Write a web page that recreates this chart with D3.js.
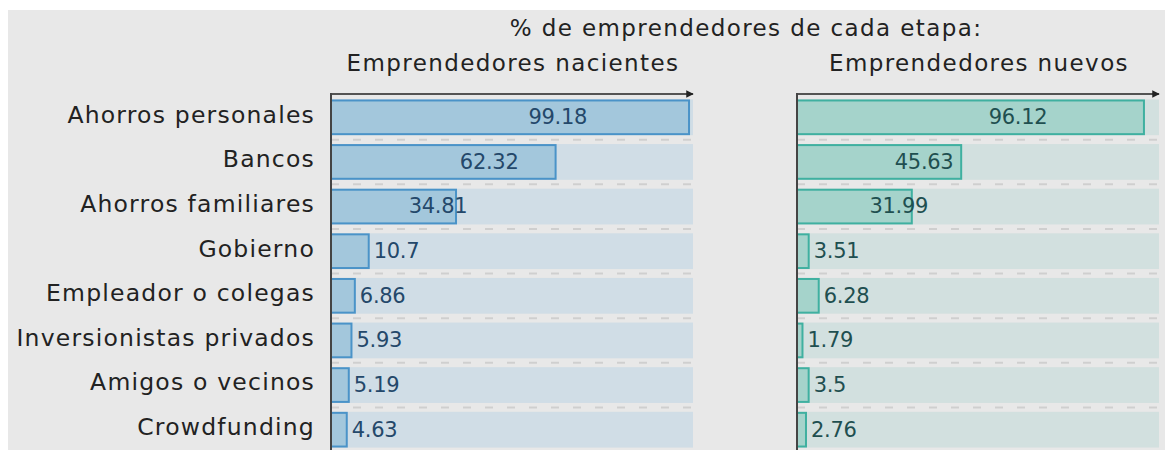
<!DOCTYPE html>
<html>
<head>
<meta charset="utf-8">
<script src="https://cdn.jsdelivr.net/npm/d3@7"></script>
<style>
  body { margin: 0; background: #fff; }
  svg { display: block; }
</style>
</head>
<body>
<div class="container"></div>
<script>
var categories = ['Ahorros personales', 'Bancos', 'Ahorros familiares', 'Gobierno',
  'Empleador o colegas', 'Inversionistas privados', 'Amigos o vecinos', 'Crowdfunding'];
var nacientes = [99.18, 62.32, 34.81, 10.7, 6.86, 5.93, 5.19, 4.63];
var nuevos = [96.12, 45.63, 31.99, 3.51, 6.28, 1.79, 3.5, 2.76];
var panelTitles = ['Emprendedores nacientes', 'Emprendedores nuevos'];
var mainTitle = '% de emprendedores de cada etapa:';

var w = 1173;
var h = 450;
var font = '"DejaVu Sans", sans-serif';

var svg = d3.select('.container')
  .append('svg')
  .attr('width', w)
  .attr('height', h);

/* ===== BACKGROUND ===== */
svg.append('rect')
  .attr('x', 8).attr('y', 10)
  .attr('width', 1157).attr('height', h - 10)
  .attr('fill', '#e8e8e8');

var yScale = d3.scaleBand()
  .domain(categories)
  .range([95, 452])
  .paddingInner(0.2)
  .paddingOuter(0.1);

svg.append('defs').append('marker')
  .attr('id', 'arrow')
  .attr('viewBox', '0 0 10 10')
  .attr('refX', 9).attr('refY', 5)
  .attr('markerWidth', 5).attr('markerHeight', 5)
  .attr('orient', 'auto')
  .append('path')
  .attr('d', 'M0,0 L10,5 L0,10 z')
  .attr('fill', '#222');

/* ===== TITLES ===== */
svg.append('text')
  .text(mainTitle)
  .attr('x', 746).attr('y', 36)
  .attr('text-anchor', 'middle')
  .attr('font-family', font)
  .attr('font-size', '23px')
  .attr('letter-spacing', '1.4px')
  .attr('fill', '#222');

/* ===== CATEGORY LABELS ===== */
svg.append('g')
  .selectAll('text')
  .data(categories)
  .enter()
  .append('text')
  .text(function(d) { return d; })
  .attr('x', 315)
  .attr('y', function(d) { return yScale(d) + yScale.bandwidth() / 2; })
  .attr('dy', '0.23em')
  .attr('text-anchor', 'end')
  .attr('font-family', font)
  .attr('font-size', '23.5px')
  .attr('letter-spacing', '1.2px')
  .attr('fill', '#222');

/* ===== PANELS ===== */
var panels = [
  { title: panelTitles[0], values: nacientes, x0: 331, fill: '#a3c7dc', stroke: '#4a93c8', track: '#d0dde6', txt: '#24486a' },
  { title: panelTitles[1], values: nuevos, x0: 797, fill: '#a5d3cb', stroke: '#3fb0a0', track: '#d2e0df', txt: '#1f4f50' }
];

panels.forEach(function(p) {
  var xScale = d3.scaleLinear()
    .domain([0, 100])
    .range([p.x0, p.x0 + 362]);

  var g = svg.append('g');

  g.append('text')
    .text(p.title)
    .attr('x', p.x0 + 182).attr('y', 71)
    .attr('text-anchor', 'middle')
    .attr('font-family', font)
    .attr('font-size', '23px')
    .attr('letter-spacing', '1.4px')
    .attr('fill', '#222');

  var rows = g.selectAll('g.row')
    .data(categories)
    .enter()
    .append('g')
    .attr('class', 'row');

  // tracks
  rows.append('rect')
    .attr('x', xScale(0))
    .attr('y', function(d) { return yScale(d); })
    .attr('width', xScale(100) - xScale(0))
    .attr('height', yScale.bandwidth())
    .attr('fill', p.track);

  // dashed separators
  rows.filter(function(d, i) { return i > 0; })
    .append('line')
    .attr('x1', xScale(0)).attr('x2', xScale(100))
    .attr('y1', function(d) { return yScale(d) - yScale.step() * yScale.paddingInner() / 2; })
    .attr('y2', function(d) { return yScale(d) - yScale.step() * yScale.paddingInner() / 2; })
    .attr('stroke', '#cfcfcf')
    .attr('stroke-width', 2)
    .attr('stroke-dasharray', '8,14');

  // bars
  rows.append('rect')
    .attr('x', xScale(0))
    .attr('y', function(d) { return yScale(d) + 1; })
    .attr('width', function(d, i) { return xScale(p.values[i]) - xScale(0) - 1; })
    .attr('height', yScale.bandwidth() - 2)
    .attr('fill', p.fill)
    .attr('stroke', p.stroke)
    .attr('stroke-width', 2);

  // values
  rows.append('text')
    .text(function(d, i) { return p.values[i]; })
    .attr('x', function(d, i) {
      var v = p.values[i];
      return v >= 20 ? xScale(11.66 + 0.514 * v) : xScale(v) + 4;
    })
    .attr('y', function(d) { return yScale(d) + yScale.bandwidth() / 2; })
    .attr('dy', '0.33em')
    .attr('text-anchor', function(d, i) { return p.values[i] >= 20 ? 'middle' : 'start'; })
    .attr('font-family', font)
    .attr('font-size', '21px')
    .attr('letter-spacing', '-0.3px')
    .attr('fill', p.txt);

  // axes
  g.append('line')
    .attr('x1', xScale(0)).attr('x2', xScale(100))
    .attr('y1', 94).attr('y2', 94)
    .attr('stroke', '#222')
    .attr('stroke-width', 1.5)
    .attr('marker-end', 'url(#arrow)');

  g.append('line')
    .attr('x1', xScale(0)).attr('x2', xScale(0))
    .attr('y1', 93).attr('y2', h)
    .attr('stroke', '#444')
    .attr('stroke-width', 2);
});
</script>
</body>
</html>
